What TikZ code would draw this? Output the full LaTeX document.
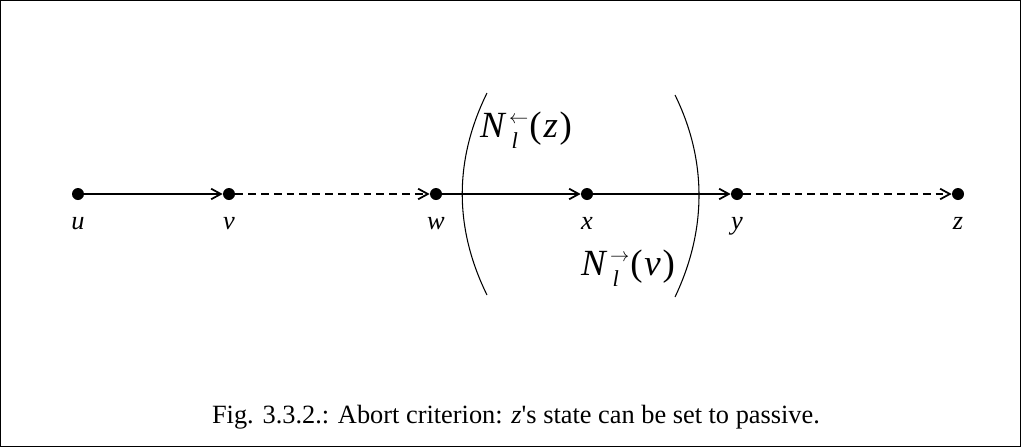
\documentclass[tikz,border=0pt]{standalone}
\usepackage{fontspec}
\setmainfont{Liberation Serif}
\usetikzlibrary{arrows.meta}
\tikzset{
  vertex/.style={circle,fill,inner sep=0pt,minimum size=0.24cm},
  link/.style={line width=1.1pt,-{Straight Barb[length=5.5pt,width=6pt,line width=1pt]}},
  dlink/.style={link,dash pattern=on 4.4pt off 2.9pt},
  paren/.style={line width=0.6pt},
}
\newcommand{\vlab}[1]{\fontsize{15}{18}\selectfont\itshape #1}
\newcommand{\nbr}[2]{\fontsize{21}{25}\selectfont\textit{N}\hspace{1.5pt}\makebox[0pt][l]{\raisebox{8pt}{\fontsize{11}{11}\selectfont$#1$}}\hspace{1.5pt}\raisebox{-6pt}{\fontsize{13}{13}\selectfont\textit{l}}\hspace{6.5pt}(\hspace{1pt}\textit{#2}\hspace{1pt})}
\begin{document}
\begin{tikzpicture}[x=0.02cm,y=-0.02cm]
  \useasboundingbox (0,0) rectangle (1021,447);
  \draw[line width=0.6pt] (0.5,0.5) rectangle (1020.5,446.5);
  % vertices
  \node[vertex,label={[label distance=6pt]below:\vlab{u}}] (u) at (78,194) {};
  \node[vertex,label={[label distance=6pt]below:\vlab{v}}] (v) at (229,194) {};
  \node[vertex,label={[label distance=6pt]below:\vlab{w}}] (w) at (436,194) {};
  \node[vertex,label={[label distance=6pt]below:\vlab{x}}] (x) at (587,194) {};
  \node[vertex,label={[label distance=6pt]below:\vlab{y}}] (y) at (737,194) {};
  \node[vertex,label={[label distance=6pt]below:\vlab{z}}] (z) at (958,194) {};
  % path
  \draw[link] (u) -- (v);
  \draw[dlink] (v) -- (w);
  \draw[link] (w) -- (x);
  \draw[link] (x) -- (y);
  \draw[dlink] (y) -- (z);
  % brackets
  \draw[paren] (487,93) .. controls (454,160) and (454,228) .. (487,295);
  \draw[paren] (675,95) .. controls (707,160) and (707,230) .. (675,297);
  \node (nz) at (526,130) {\nbr{\leftarrow}{z}};
  \node (nv) at (628,268) {\nbr{\rightarrow}{v}};
  % caption
  \node (cap) at (516,417) {\fontsize{15}{18}\selectfont Fig. 3.3.2.: Abort criterion: \textit{z}\textquotesingle s state can be set to passive.};
\end{tikzpicture}
\end{document}
